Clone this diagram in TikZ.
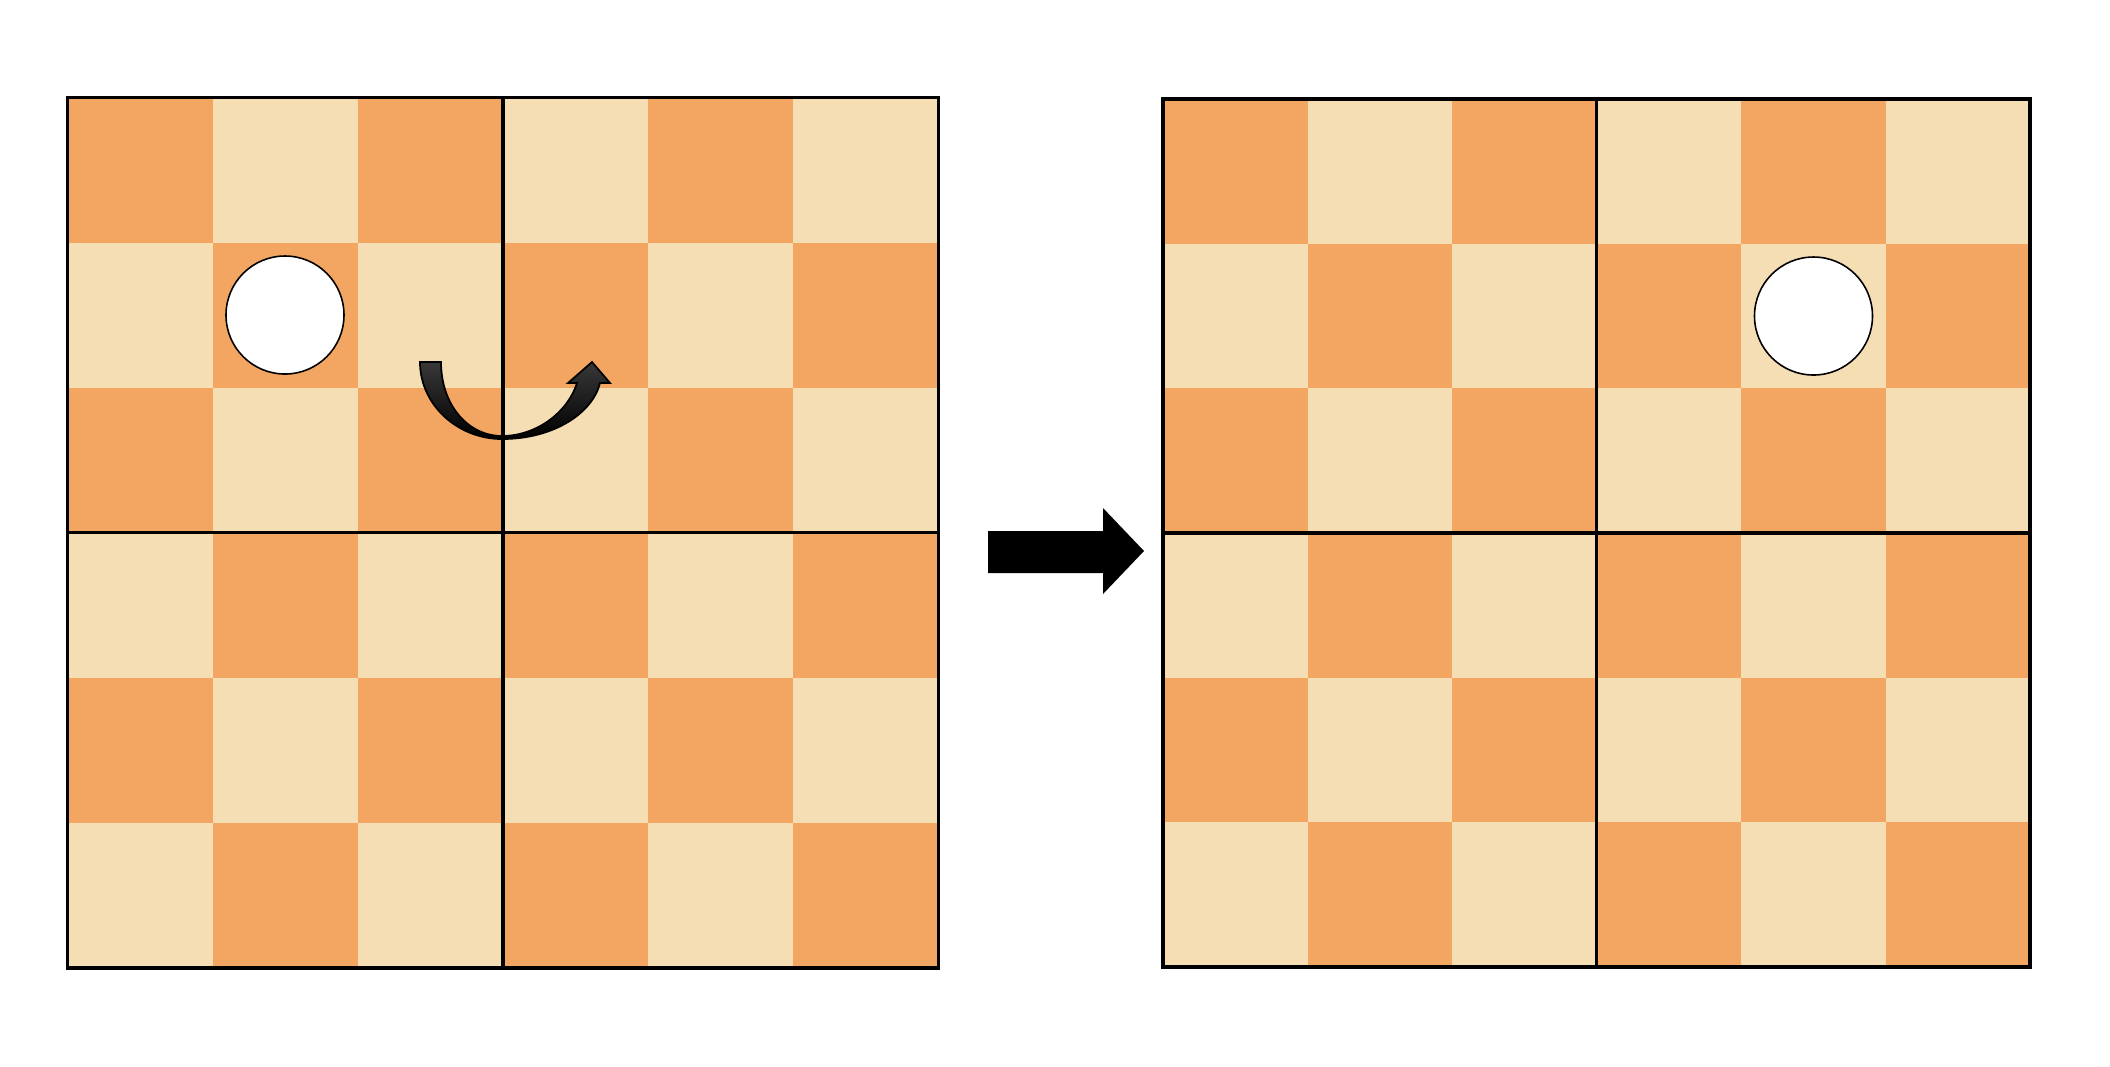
\documentclass[tikz,border=0pt]{standalone}
\definecolor{cdark}{HTML}{F3A662}
\definecolor{clight}{HTML}{F5DEB3}
\tikzset{
  gridline/.style={draw=black, line width=0.95pt},
  hole/.style={circle, draw=black, line width=0.45pt, fill=white, minimum size=11.8mm, inner sep=0pt},
  turnarrow/.style={top color=black!78, bottom color=black, draw=black, line width=0.5pt},
  bigarrow/.style={fill=black}
}
\newcommand\myboard[4]{%
  \foreach \i in {0,...,5}{%
    \foreach \j in {0,...,5}{%
      \edef\cc{\ifodd\numexpr\i+\j\relax clight\else cdark\fi}%
      \fill[fill=\cc] ({#1+\i*#3/6},{#2+\j*#4/6}) rectangle ({#1+(\i+1)*#3/6},{#2+(\j+1)*#4/6});
    }%
  }%
  \draw[gridline] (#1,#2) rectangle ({#1+#3},{#2+#4});
  \draw[gridline] ({#1+#3/2},#2) -- ({#1+#3/2},{#2+#4});
  \draw[gridline] (#1,{#2+#4/2}) -- ({#1+#3},{#2+#4/2});
}
\begin{document}
\begin{tikzpicture}[x=0.1mm,y=-0.1mm]
\useasboundingbox (0,0) rectangle (2110,1066);
\fill[white] (0,0) rectangle (2110,1066);
% left board
\myboard{67.5}{97.5}{871}{870.5}
% right board
\myboard{1163}{99}{867}{868}
% holes
\node[hole] (holeA) at (285,315) {};
\node[hole] (holeB) at (1813.5,316) {};
% curved arrow
\shade[turnarrow] (420,362) .. controls (420,405) and (458,439) .. (502,439)
  .. controls (555,439) and (593,412) .. (600,383) -- (610,383) -- (592,362)
  -- (568,383) -- (577,383) .. controls (567,414) and (535,436) .. (502,436)
  .. controls (468,436) and (441,405) .. (441,362) -- cycle;
% big arrow
\fill[bigarrow] (988,531) -- (1103,531) -- (1103,508) -- (1144,551) -- (1103,594) -- (1103,573) -- (988,573) -- cycle;
\end{tikzpicture}
\end{document}
